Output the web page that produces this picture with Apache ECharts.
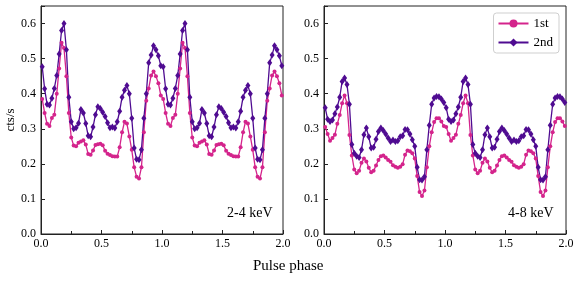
<!DOCTYPE html>
<html>
<head>
<meta charset="utf-8">
<script src="https://cdn.jsdelivr.net/npm/echarts@6/dist/echarts.min.js"></script>
<style>html,body{margin:0;padding:0;background:#fff}#c{width:581px;height:283px}</style>
</head>
<body>
<div id="c"></div>
<script>
// Phase bins per cycle (bin centres), profile shown for two cycles
const nBins = 50;
const binCentres = Array.from({length: nBins}, (_, i) => (i + 0.5) / nBins);

// 2-4 keV, 1st observation (one cycle)
const soft1st = [0.385,0.345,0.314,0.308,0.331,0.340,0.400,0.472,0.545,0.530,
  0.450,0.345,0.275,0.252,0.250,0.260,0.264,0.267,0.255,0.228,
  0.226,0.238,0.254,0.256,0.257,0.253,0.237,0.229,0.225,0.222,
  0.221,0.221,0.247,0.290,0.320,0.315,0.278,0.240,0.190,0.163,
  0.158,0.190,0.290,0.380,0.415,0.452,0.463,0.450,0.430,0.395];
// 2-4 keV, 2nd observation
const soft2nd = [0.477,0.414,0.370,0.368,0.387,0.415,0.452,0.513,0.580,0.600,
  0.525,0.390,0.320,0.300,0.303,0.316,0.355,0.345,0.315,0.280,
  0.277,0.305,0.340,0.363,0.358,0.347,0.335,0.317,0.303,0.305,
  0.302,0.320,0.350,0.390,0.410,0.423,0.400,0.330,0.245,0.213,
  0.212,0.240,0.330,0.400,0.488,0.510,0.537,0.525,0.508,0.480];
// 4-8 keV, 1st observation
const hard1st = [0.305,0.285,0.266,0.274,0.283,0.314,0.339,0.373,0.395,0.373,
  0.282,0.224,0.184,0.173,0.180,0.203,0.215,0.207,0.189,0.176,
  0.180,0.195,0.211,0.222,0.224,0.218,0.211,0.206,0.196,0.192,
  0.189,0.192,0.199,0.226,0.238,0.236,0.230,0.215,0.165,0.120,
  0.108,0.124,0.190,0.250,0.290,0.319,0.330,0.330,0.321,0.308];
// 4-8 keV, 2nd observation
const hard2nd = [0.360,0.327,0.321,0.325,0.343,0.362,0.390,0.435,0.445,0.426,
  0.370,0.255,0.230,0.222,0.218,0.240,0.283,0.302,0.277,0.245,
  0.247,0.270,0.292,0.302,0.295,0.285,0.274,0.264,0.268,0.264,
  0.266,0.277,0.280,0.298,0.297,0.285,0.269,0.250,0.190,0.155,
  0.154,0.163,0.240,0.310,0.370,0.388,0.392,0.391,0.385,0.375];

const seriesNames = ['1st', '2nd'];
const bandLabels = ['2-4 keV', '4-8 keV'];
const yTicks = [0, 0.1, 0.2, 0.3, 0.4, 0.5, 0.6];

function twoCycles(vals) {
  const out = [];
  for (let c = 0; c < 2; c++) {
    for (let i = 0; i < vals.length; i++) out.push([c + binCentres[i], vals[i]]);
  }
  return out;
}

const PINK = '#d4248c';
const PURPLE = '#4f0b91';
const FONT = 'Liberation Serif';

const chart = echarts.init(document.getElementById('c'), null, {renderer: 'canvas'});

function xAx(gi) {
  return {
    type: 'value', gridIndex: gi, min: 0, max: 2, interval: 0.5,
    axisLine: {show: true, onZero: false, lineStyle: {color: '#222', width: 1}},
    axisTick: {show: true, inside: true, length: 4, lineStyle: {color: '#222'}},
    minorTick: {show: true, splitNumber: 2, length: 3, lineStyle: {color: '#222'}},
    splitLine: {show: false},
    axisLabel: {color: '#000', fontFamily: FONT, fontSize: 12, margin: 4,
      formatter: v => v.toFixed(1)}
  };
}
function yAx(gi, name) {
  return {
    type: 'value', gridIndex: gi, min: 0, max: 0.65, interval: 0.1,
    name: name, nameLocation: 'middle', nameGap: 23,
    nameTextStyle: {color: '#000', fontFamily: FONT, fontSize: 13},
    axisLine: {show: true, onZero: false, lineStyle: {color: '#222', width: 1}},
    axisTick: {show: true, inside: true, length: 4, lineStyle: {color: '#222'}},
    splitLine: {show: false},
    axisLabel: {color: '#000', fontFamily: FONT, fontSize: 12, margin: 5,
      formatter: v => yTicks.some(t => Math.abs(t - v) < 1e-6) ? v.toFixed(1) : ''}
  };
}

function lineSeries(name, gi, vals, color, symbol, size) {
  return {
    name: name, type: 'line', xAxisIndex: gi, yAxisIndex: gi,
    data: twoCycles(vals), symbol: symbol, symbolSize: size, showSymbol: true,
    animation: false,
    lineStyle: {color: color, width: 1.3},
    itemStyle: {color: color}
  };
}

chart.setOption({
  animation: false,
  backgroundColor: '#fff',
  grid: [
    {left: 41, top: 6, width: 242, height: 228, show: true, borderColor: '#222', borderWidth: 1},
    {left: 324, top: 6, width: 242, height: 228, show: true, borderColor: '#222', borderWidth: 1}
  ],
  xAxis: [xAx(0), xAx(1)],
  yAxis: [yAx(0, 'cts/s'), yAx(1, '')],
  legend: {
    data: seriesNames, orient: 'vertical', right: 22, top: 13,
    itemWidth: 30, itemHeight: 10, itemGap: 6,
    padding: [4, 6, 4, 4],
    borderColor: '#cfcfcf', borderWidth: 1, borderRadius: 3,
    textStyle: {color: '#000', fontFamily: FONT, fontSize: 13}
  },
  series: [
    lineSeries(seriesNames[0], 0, soft1st, PINK, 'circle', 4),
    lineSeries(seriesNames[1], 0, soft2nd, PURPLE, 'diamond', [5, 7]),
    lineSeries(seriesNames[0], 1, hard1st, PINK, 'circle', 4),
    lineSeries(seriesNames[1], 1, hard2nd, PURPLE, 'diamond', [5, 7])
  ],
  graphic: [
    {type: 'text', left: 227, top: 206, style: {text: bandLabels[0], font: '14px "Liberation Serif"', fill: '#000'}},
    {type: 'text', left: 508, top: 206, style: {text: bandLabels[1], font: '14px "Liberation Serif"', fill: '#000'}},
    {type: 'text', left: 253, top: 259, style: {text: 'Pulse phase', font: '15px "Liberation Serif"', fill: '#000'}}
  ]
});
</script>
</body>
</html>
